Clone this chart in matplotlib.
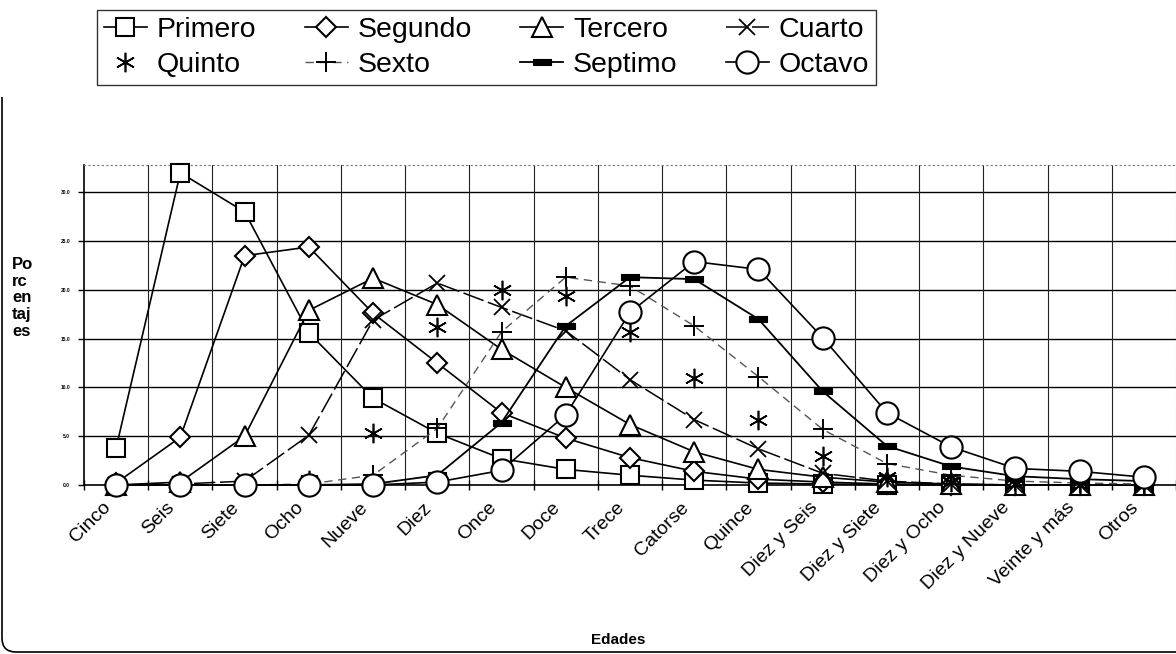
import matplotlib
matplotlib.use("Agg")
import matplotlib.pyplot as plt
from matplotlib.path import Path
from matplotlib.patches import PathPatch
import matplotlib.transforms as mtransforms
import numpy as np

plt.rcParams['font.family'] = ['Liberation Sans', 'DejaVu Sans']

categorias = ["Cinco", "Seis", "Siete", "Ocho", "Nueve", "Diez", "Once", "Doce",
              "Trece", "Catorse", "Quince", "Diez y Seis", "Diez y Siete",
              "Diez y Ocho", "Diez y Nueve", "Veinte y más", "Otros"]

primero = [3.8, 32.0, 28.0, 15.6, 8.9, 5.3, 2.7, 1.6, 1.0, 0.5, 0.2, 0.1, 0.05, 0.0, 0.0, 0.0, 0.0]
segundo = [0.2, 4.9, 23.5, 24.4, 17.6, 12.5, 7.4, 4.8, 2.8, 1.4, 0.6, 0.3, 0.1, 0.0, 0.0, 0.0, 0.0]
tercero = [0.0, 0.3, 5.0, 17.9, 21.2, 18.5, 13.9, 10.0, 6.2, 3.4, 1.6, 0.8, 0.3, 0.1, 0.0, 0.0, 0.0]
cuarto = [0.0, 0.1, 0.4, 5.1, 16.9, 20.7, 18.2, 15.8, 10.8, 6.7, 3.7, 1.2, 0.4, 0.1, 0.0, 0.0, 0.0]
quinto = [0.0, 0.0, 0.1, 0.5, 5.3, 16.2, 20.0, 19.4, 15.7, 11.0, 6.7, 3.0, 0.8, 0.3, 0.1, 0.0, 0.0]
sexto = [0.0, 0.0, 0.0, 0.1, 1.0, 5.8, 15.7, 21.3, 20.4, 16.3, 11.1, 5.7, 2.2, 1.0, 0.4, 0.2, 0.1]
septimo = [0.0, 0.0, 0.0, 0.0, 0.1, 1.0, 6.4, 16.3, 21.3, 21.1, 17.0, 9.6, 4.0, 1.9, 0.9, 0.6, 0.4]
octavo = [0.0, 0.0, 0.0, 0.0, 0.0, 0.3, 1.5, 7.2, 17.7, 22.9, 22.1, 15.1, 7.4, 3.9, 1.7, 1.4, 0.8]

y_ticks = [0, 5, 10, 15, 20, 25, 30]

W, H = 1176, 654
fig = plt.figure(figsize=(W / 100, H / 100), dpi=100)
fig.patch.set_facecolor('white')

ax_left, ax_right, ax_top, ax_bottom = 84, 1176, 165, 485
ax = fig.add_axes([ax_left / W, 1 - ax_bottom / H, (ax_right - ax_left) / W, (ax_bottom - ax_top) / H])

x = np.arange(len(categorias))
bar_marker = [(-1, -0.32), (1, -0.32), (1, 0.32), (-1, 0.32), (-1, -0.32)]

ew = 1.5
series = [
    ("Primero", primero, dict(marker='s', ms=12.5, mfc='white', mec='black', mew=ew, ls='-', lw=1.2)),
    ("Segundo", segundo, dict(marker='D', ms=10, mfc='white', mec='black', mew=ew, ls='-', lw=1.2)),
    ("Tercero", tercero, dict(marker='^', ms=14, mfc='white', mec='black', mew=ew, ls='-', lw=1.2)),
    ("Cuarto", cuarto, dict(marker='x', ms=12, mec='black', mew=1.3, ls=(0, (14, 3)), lw=1.1)),
    ("Quinto", quinto, dict(marker=(6, 2, 0), ms=14, mec='black', mew=1.2, ls='none')),
    ("Sexto", sexto, dict(marker='+', ms=15, mec='black', mew=1.4, ls=(0, (6, 4)), lw=1.0, color='#555555')),
    ("Septimo", septimo, dict(marker=bar_marker, ms=13, mfc='black', mec='black', mew=0.8, ls='-', lw=1.3)),
    ("Octavo", octavo, dict(marker='o', ms=16, mfc='white', mec='black', mew=ew, ls='-', lw=1.2)),
]

handles = {}
for name, vals, kw in series:
    kw = dict(kw)
    color = kw.pop('color', 'black')
    ln, = ax.plot(x, vals, color=color, label=name, zorder=3, clip_on=False, **kw)
    if name == "Sexto":
        ln.set_markeredgecolor('black')
    handles[name] = ln

ax.set_xlim(-0.5, len(categorias) - 0.5)
ax.set_ylim(0, 32.8)

# grid
ax.set_yticks(y_ticks)
ax.set_yticklabels([f"{v:.1f}" for v in y_ticks], fontsize=3.5, fontweight='bold')
for v in y_ticks[1:]:
    ax.axhline(v, color='black', lw=1.0, zorder=1)
for b in np.arange(0.5, len(categorias) - 0.5, 1.0):
    ax.axvline(b, color='#222222', lw=0.8, zorder=1)

ax.set_xticks(x)
ax.set_xticklabels(categorias, rotation=45, ha='right', va='top', rotation_mode='anchor', fontsize=14)
ax.tick_params(axis='x', length=0, pad=10)
shift = mtransforms.ScaledTranslation(-0.14, 0.0, fig.dpi_scale_trans)
for lab in ax.get_xticklabels():
    lab.set_transform(lab.get_transform() + shift)
ax.set_xticks(np.arange(-0.5, len(categorias), 1.0), minor=True)
ax.tick_params(axis='x', which='minor', length=7, direction='inout', width=1)
ax.tick_params(axis='y', length=4, direction='out', width=1, pad=6)

for s in ['top', 'right']:
    ax.spines[s].set_linestyle((0, (1, 3)))
    ax.spines[s].set_color('#777777')
    ax.spines[s].set_linewidth(0.8)
ax.spines['left'].set_linewidth(1.2)
ax.spines['left'].set_linestyle((0, (6, 1)))
ax.spines['bottom'].set_linewidth(1.2)

fig.text(12 / W, 1 - 298 / H, "Po\nrc\nen\ntaj\nes", fontsize=12, fontweight='bold',
         ha='left', va='center', linespacing=1.15)
fig.text(618 / W, 1 - 640 / H, "Edades", fontsize=11, fontweight='bold', ha='center', va='center')

order = ["Primero", "Quinto", "Segundo", "Sexto", "Tercero", "Septimo", "Cuarto", "Octavo"]
leg = fig.legend(handles=[handles[n] for n in order], loc='upper left', bbox_to_anchor=(97 / W, 1 - 10 / H),
                 ncols=4, fontsize=20.5, frameon=True, fancybox=False, edgecolor='black',
                 handlelength=1.5, handletextpad=0.35, columnspacing=1.7, labelspacing=0.3,
                 borderpad=0.25, borderaxespad=0)
leg.get_frame().set_linewidth(1.0)

# outer rounded border (left and bottom visible)
p0 = (2 / W, 1 - 97 / H)
verts = [p0, (2 / W, 1 - 638 / H), (2 / W, 1 - 652 / H), (16 / W, 1 - 652 / H), (1.0, 1 - 652 / H)]
codes = [Path.MOVETO, Path.LINETO, Path.CURVE3, Path.CURVE3, Path.LINETO]
fig.add_artist(PathPatch(Path(verts, codes), transform=fig.transFigure, fill=False,
                         edgecolor='black', lw=1.2))

fig.savefig("out.png", dpi=100)
